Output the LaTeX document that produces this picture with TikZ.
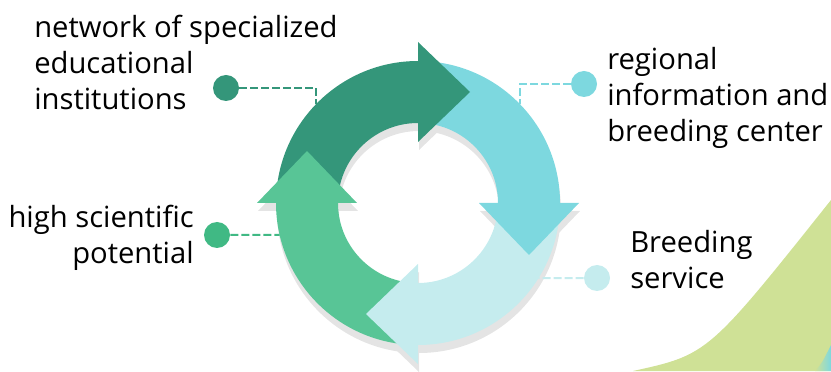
\documentclass[tikz,border=0pt]{standalone}
\usepackage{fontspec}
\setmainfont{Open Sans}
\usepackage{xcolor}
\usepackage{tikz}

\definecolor{netgreen}{HTML}{34967A}
\definecolor{regcyan}{HTML}{7DD8DF}
\definecolor{brdcyan}{HTML}{C5ECEE}
\definecolor{scigreen}{HTML}{58C596}
\definecolor{scidot}{HTML}{40B984}
\definecolor{ringshadow}{HTML}{E4E4E4}
\definecolor{leaf}{HTML}{CFE196}

\begin{document}
\begin{tikzpicture}[x=0.75pt, y=0.75pt,
          bullet/.style={circle, inner sep=0, minimum size=19.5pt},
          txt/.style={font=\fontsize{21.9}{27}\selectfont, inner sep=0, align=left},
          link/.style={line width=1.5pt, dash pattern=on 6pt off 2.25pt},
		]
			\useasboundingbox (0,0) rectangle (831,371);
			% leaf in the corner
			\fill[leaf] (633,0) .. controls (708,16.5) .. (831,171) -- (831,0) -- cycle;
			\shade[left color=leaf, right color=regcyan] (815,0) .. controls (822,8) .. (831,26) -- (831,0) -- cycle;

			\begin{scope}[shift={(418,168)}]
				% shadow under the ring
				\begin{scope}[shift={(1,-8)}]
					\fill[ringshadow, even odd rule] (0,0) circle[radius=142] (0,0) circle[radius=80];
					\fill[ringshadow] (90:61) -- (90:161) -- (52,111) -- cycle
                        (0:61) -- (0:161) -- (111,-52) -- cycle
                        (-90:61) -- (-90:161) -- (-52,-111) -- cycle
                        (180:61) -- (180:161) -- (-111,52) -- cycle;
				\end{scope}
				% arrow bodies, joints hidden under the heads
				\fill[netgreen] (178:142) arc[start angle=178, end angle=88, radius=142]
                    -- (88:80) arc[start angle=88, end angle=178, radius=80] -- cycle;
				\fill[regcyan] (88:142) arc[start angle=88, end angle=-2, radius=142]
                    -- (-2:80) arc[start angle=-2, end angle=88, radius=80] -- cycle;
				\fill[brdcyan] (-2:142) arc[start angle=-2, end angle=-92, radius=142]
                    -- (-92:80) arc[start angle=-92, end angle=-2, radius=80] -- cycle;
				\fill[scigreen] (-92:142) arc[start angle=-92, end angle=-182, radius=142]
                    -- (-182:80) arc[start angle=-182, end angle=-92, radius=80] -- cycle;
				% arrow heads
				\fill[netgreen] (90:61) -- (90:161) -- (52,111) -- cycle;
				\fill[regcyan] (0:61) -- (0:161) -- (111,-52) -- cycle;
				\fill[brdcyan] (-90:61) -- (-90:161) -- (-52,-111) -- cycle;
				\fill[scigreen] (180:61) -- (180:161) -- (-111,52) -- cycle;
				% where the links meet the ring
				\coordinate (tNet) at (136:142);
				\coordinate (tReg) at (44:142);
				\coordinate (tSci) at (193:142);
				\coordinate (tBrd) at (-32:142);
			\end{scope}

			\node[bullet, fill=netgreen] (dotNet) at (226,283) {};
			\node[bullet, fill=regcyan] (dotReg) at (584,287) {};
			\node[bullet, fill=scidot] (dotSci) at (217,136) {};
			\node[bullet, fill=brdcyan] (dotBrd) at (597,93) {};

			\node[txt, anchor=north west] (netText) at (34,356)
                {network of specialized\\educational\\institutions};
			\node[txt, anchor=north east, align=right] (sciText) at (194,166)
                {high scientific\\potential};
			\node[txt, anchor=north west] (regText) at (607,324)
                {regional\\information and\\breeding center};
			\node[txt, anchor=north west] (brdText) at (630,141)
                {Breeding\\service};

            \draw[link, netgreen] (dotNet) -| (tNet);
            \draw[link, regcyan] (dotReg) -| (tReg);
            \draw[link, scidot] (dotSci) -- (tSci);
            \draw[link, brdcyan] (dotBrd) -- (tBrd);

		 \end{tikzpicture}
\end{document}
